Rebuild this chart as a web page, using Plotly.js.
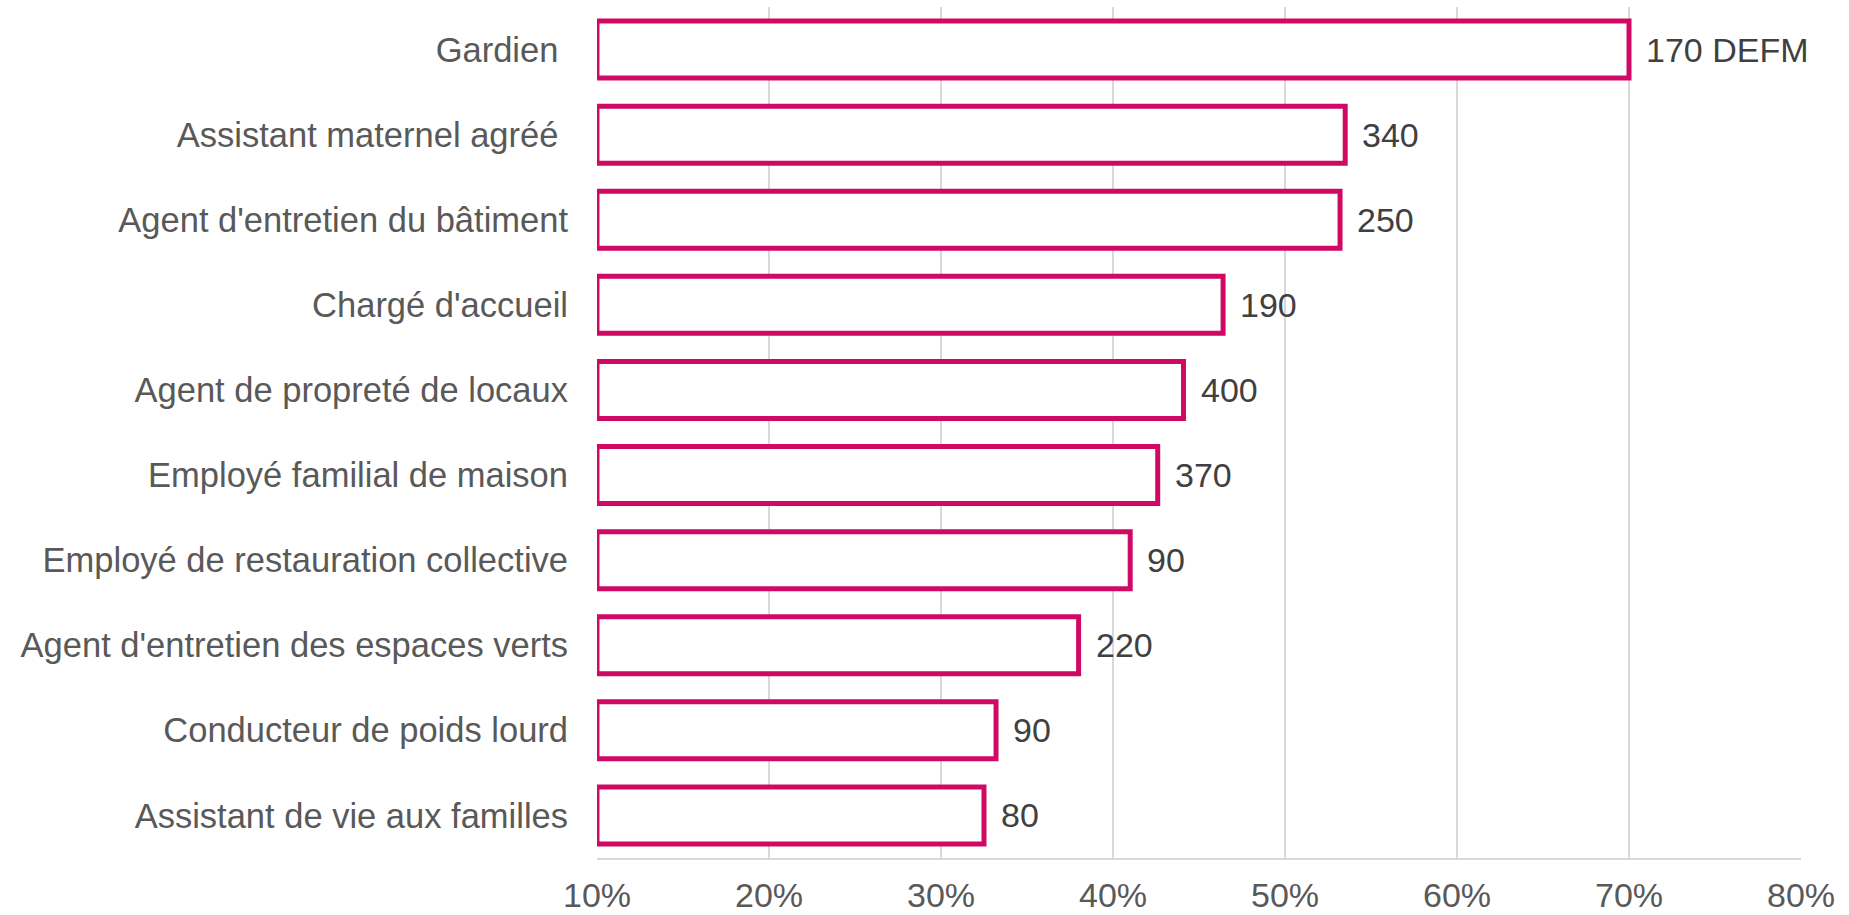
<!DOCTYPE html>
<html>
<head>
<meta charset="utf-8">
<script src="https://cdn.plot.ly/plotly-3.0.1.min.js"></script>
<style>
  html, body { margin: 0; padding: 0; background: #ffffff; }
  #chart { width: 1849px; height: 915px; }
</style>
</head>
<body>
<div id="chart"></div>
<script>
// Categories, top to bottom
const categories = [
  "Gardien\u00a0",
  "Assistant maternel agréé\u00a0",
  "Agent d'entretien du bâtiment",
  "Chargé d'accueil",
  "Agent de propreté de locaux",
  "Employé familial de maison",
  "Employé de restauration collective",
  "Agent d'entretien des espaces verts",
  "Conducteur de poids lourd",
  "Assistant de vie aux familles"
];
// Share (fraction)
const shares = [0.700, 0.535, 0.532, 0.464, 0.441, 0.426, 0.410, 0.380, 0.332, 0.325];
// Data labels (number of job seekers)
const dataLabels = ["170 DEFM", "340", "250", "190", "400", "370", "90", "220", "90", "80"];
// Axis ticks
const tickValues = [0.1, 0.2, 0.3, 0.4, 0.5, 0.6, 0.7, 0.8];
const tickLabels = ["10%", "20%", "30%", "40%", "50%", "60%", "70%", "80%"];

const axisMin = 0.1, axisMax = 0.8;
const FONT = "Liberation Sans, Arial, sans-serif";
const PINK = "#D00A64";

const trace = {
  type: "bar",
  orientation: "h",
  y: categories,
  base: axisMin,
  x: shares.map(v => v - axisMin),
  marker: { color: "#ffffff", line: { color: PINK, width: 5 } },
  hoverinfo: "skip"
};

const annotations = shares.map((v, i) => ({
  x: v, y: categories[i], xref: "x", yref: "y",
  text: dataLabels[i], showarrow: false,
  xanchor: "left", yanchor: "middle", xshift: 15,
  font: { family: FONT, size: 34, color: "#404040" }
}));

const layout = {
  width: 1849, height: 915,
  margin: { l: 597, r: 48, t: 7, b: 56.5, pad: 0 },
  paper_bgcolor: "#ffffff", plot_bgcolor: "#ffffff",
  showlegend: false,
  bargap: 0.33,
  font: { family: FONT, color: "#595959" },
  xaxis: {
    range: [axisMin, axisMax],
    tickvals: tickValues, ticktext: tickLabels,
    showgrid: true, gridcolor: "#d9d9d9", gridwidth: 1.5,
    showline: true, linecolor: "#d9d9d9", linewidth: 2,
    zeroline: false, ticks: "",
    ticklabelstandoff: 6,
    tickfont: { family: FONT, size: 34, color: "#595959" },
    fixedrange: true
  },
  yaxis: {
    type: "category",
    categoryorder: "array",
    categoryarray: categories.slice().reverse(),
    showgrid: false, zeroline: false, showline: false, ticks: "",
    ticklabelstandoff: 28,
    tickfont: { family: FONT, size: 34.5, color: "#595959" },
    fixedrange: true
  },
  annotations: annotations
};

Plotly.newPlot("chart", [trace], layout, { displayModeBar: false, staticPlot: true });
</script>
</body>
</html>
